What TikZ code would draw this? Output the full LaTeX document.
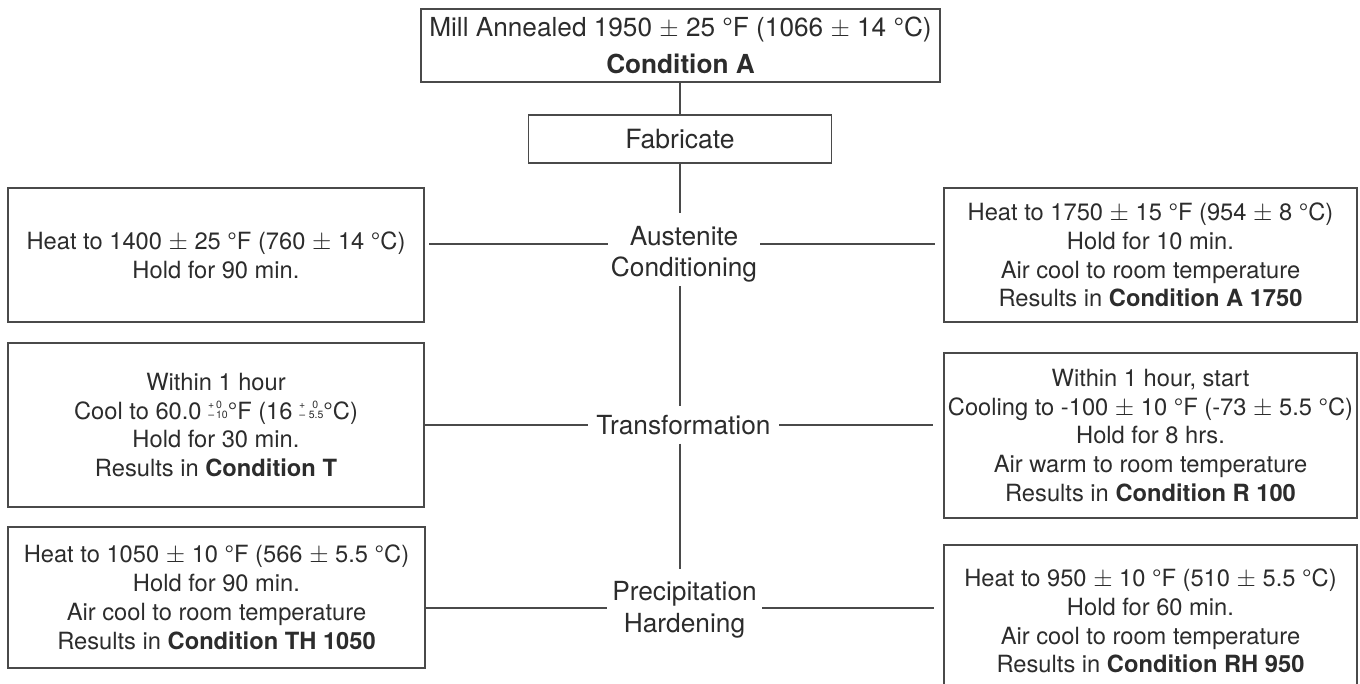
\documentclass[tikz,border=0pt]{standalone}
\usepackage{fontspec}
\setmainfont{TeX Gyre Heros}
\definecolor{txt}{HTML}{2C2C2C}
\definecolor{ln}{HTML}{4A4A4A}
\newcommand\tolst[4]{\raisebox{5pt}{\fontsize{10.5}{10.5}\selectfont\begin{tabular}[c]{@{}c@{\,}l@{}}#1&#2\\#3&#4\end{tabular}}}
\begin{document}
\begin{tikzpicture}[x=1pt,y=-1pt,
  box/.style={draw=ln, line width=1.4pt, text=txt, align=center, inner sep=0pt,
    font=\fontsize{23.7}{28.8}\selectfont},
  lab/.style={text=txt, align=center, inner sep=0pt, font=\fontsize{26.3}{31.5}\selectfont},
  conn/.style={draw=ln, line width=1.4pt}]
\useasboundingbox (0,0) rectangle (1360,684);
\clip (0,0) rectangle (1360,684);
% trunk boxes
\node[box, minimum width=519pt, minimum height=73pt, font=\fontsize{26.2}{37}\selectfont] (top) at (680.5,45.5)
  {Mill Annealed 1950 $\pm$ 25 °F (1066 $\pm$ 14 °C)\\\textbf{Condition A}};
\node[box, minimum width=303pt, minimum height=48pt, font=\fontsize{26.5}{32}\selectfont] (fab) at (680,139) {Fabricate};
% labels
\node[lab, minimum width=152pt, minimum height=73pt] (aust) at (684,254.5) {Austenite\\Conditioning};
\node[lab, minimum width=191pt, minimum height=37pt] (trans) at (683.5,425) {Transformation};
\node[lab, minimum width=155pt, minimum height=76pt] (prec) at (684.5,610) {Precipitation\\Hardening};
% left boxes
\node[box, minimum width=416pt, minimum height=134pt] (l1) at (216,255)
  {Heat to 1400 $\pm$ 25 °F (760 $\pm$ 14 °C)\\Hold for 90 min.};
\node[box, minimum width=416pt, minimum height=164pt] (l2) at (216,425)
  {Within 1 hour\\Cool to 60.0 \tolst{+}{0}{–}{10}°F (16 \tolst{+}{\enspace0}{–}{\,5.5}°C)\\Hold for 30 min.\\Results in \textbf{Condition T}};
\node[box, minimum width=417pt, minimum height=141pt] (l3) at (216.5,597.5)
  {Heat to 1050 $\pm$ 10 °F (566 $\pm$ 5.5 °C)\\Hold for 90 min.\\Air cool to room temperature\\Results in \textbf{Condition TH 1050}};
% right boxes
\node[box, minimum width=413pt, minimum height=134pt] (r1) at (1150.5,255)
  {Heat to 1750 $\pm$ 15 °F (954 $\pm$ 8 °C)\\Hold for 10 min.\\Air cool to room temperature\\Results in \textbf{Condition A 1750}};
\node[box, minimum width=413pt, minimum height=165pt] (r2) at (1150.5,435.5)
  {Within 1 hour, start\\Cooling to -100 $\pm$ 10 °F (-73 $\pm$ 5.5 °C)\\Hold for 8 hrs.\\Air warm to room temperature\\Results in \textbf{Condition R 100}};
\node[box, minimum width=413pt, minimum height=152pt] (r3) at (1150.5,621)
  {Heat to 950 $\pm$ 10 °F (510 $\pm$ 5.5 °C)\\Hold for 60 min.\\Air cool to room temperature\\Results in \textbf{Condition RH 950}};
% connector rows
\coordinate (ya) at (0,244);
\coordinate (yt) at (0,425);
\coordinate (yp) at (0,608);
% trunk
\draw[conn] (top.south -| fab.north) -- (fab.north);
\draw[conn, shorten >=5pt] (fab.south) -- (fab.south |- aust.north);
\draw[conn, shorten <=-5pt] (aust.south -| fab.south) -- (trans.north -| fab.south);
\draw[conn, shorten >=3pt] (trans.south -| fab.south) -- (prec.north -| fab.south);
% branches
\draw[conn, shorten >=4pt] (aust.west |- ya) -- (l1.east |- ya);
\draw[conn, shorten >=8pt] (aust.east |- ya) -- (r1.west |- ya);
\draw[conn] (trans.west |- yt) -- (l2.east |- yt);
\draw[conn, shorten >=10pt] (trans.east |- yt) -- (r2.west |- yt);
\draw[conn] (prec.west |- yp) -- (l3.east |- yp);
\draw[conn, shorten >=9pt] (prec.east |- yp) -- (r3.west |- yp);
\end{tikzpicture}
\end{document}
